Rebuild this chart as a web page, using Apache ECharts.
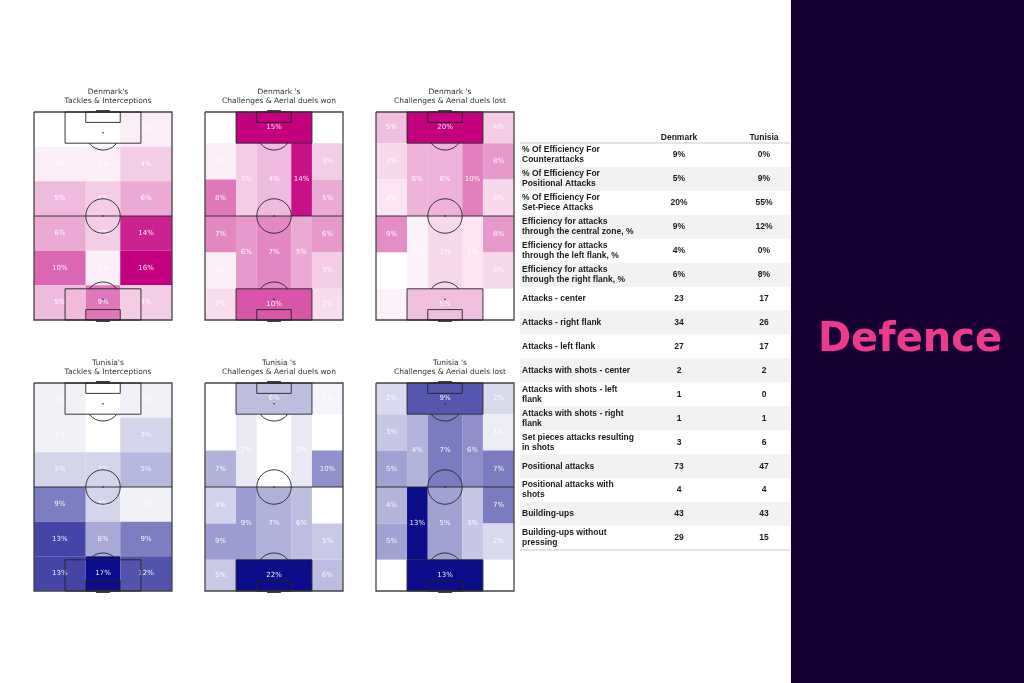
<!DOCTYPE html>
<html><head><meta charset="utf-8">
<script src="https://cdn.jsdelivr.net/npm/echarts@6/dist/echarts.min.js"></script>
<style>html,body{margin:0;padding:0;background:#fff}#c{width:1024px;height:683px}</style>
</head><body><div id="c"></div>
<script>
// ---------- DATA ----------
const pitchTitles = [
  "Denmark's\nTackles & Interceptions",
  "Denmark 's\nChallenges & Aerial duels won",
  "Denmark 's\nChallenges & Aerial duels lost",
  "Tunisia's\nTackles & Interceptions",
  "Tunisia 's\nChallenges & Aerial duels won",
  "Tunisia 's\nChallenges & Aerial duels lost"
];
// Tackles & interceptions: 6 rows (top->bottom) x 3 columns (left->right), %
const denTackles = [1,1,2, 2,2,4, 5,4,6, 6,4,14, 10,2,16, 5,9,4];
const tunTackles = [1,0,1, 1,0,3, 3,3,5, 9,3,1, 13,6,9, 13,17,12];
// Positional zones (order of posZones below), %
const denWon  = [0,15,0, 1,8,3,4,14,3,5, 7,1,6,7,5,6,3, 2,10,2];
const denLost = [5,20,4, 3,2,6,6,10,8,3, 9,0,1,3,2,8,3, 1,5,0];
const tunWon  = [0,6,1, 0,7,2,0,2,0,10, 4,9,9,7,6,0,5, 5,22,6];
const tunLost = [2,9,2, 3,5,4,7,6,1,7, 4,5,13,5,3,7,2, 0,13,0];

// Zone grids in pitch units (80 wide x 120 long)
const tiXEdges = [0,30,50,80];
const tiYEdges = [0,20,40,60,80,100,120];
const posZones = [
  [0,18,0,18],[18,62,0,18],[62,80,0,18],
  [0,18,18,39],[0,18,39,60],[18,30,18,60],[30,50,18,60],[50,62,18,60],[62,80,18,39],[62,80,39,60],
  [0,18,60,81],[0,18,81,102],[18,30,60,102],[30,50,60,102],[50,62,60,102],[62,80,60,81],[62,80,81,102],
  [0,18,102,120],[18,62,102,120],[62,80,102,120]
];

const tableHeader = ['Denmark','Tunisia'];
const tableLabels = [
  '% Of Efficiency For\nCounterattacks',
  '% Of Efficiency For\nPositional Attacks',
  '% Of Efficiency For\nSet-Piece Attacks',
  'Efficiency for attacks\nthrough the central zone, %',
  'Efficiency for attacks\nthrough the left flank, %',
  'Efficiency for attacks\nthrough the right flank, %',
  'Attacks - center',
  'Attacks - right flank',
  'Attacks - left flank',
  'Attacks with shots - center',
  'Attacks with shots - left\nflank',
  'Attacks with shots - right\nflank',
  'Set pieces attacks resulting\nin shots',
  'Positional attacks',
  'Positional attacks with\nshots',
  'Building-ups',
  'Building-ups without\npressing'
];
const denmarkStats = ['9%','5%','20%','9%','4%','6%','23','34','27','2','1','1','3','73','4','43','29'];
const tunisiaStats = ['0%','9%','55%','12%','0%','8%','17','26','17','2','0','1','6','47','4','43','15'];

const sectionTitle = 'Defence';

// ---------- BUILD ----------
function tiData(vals){
  const out = [];
  for (let r=0;r<6;r++) for (let c=0;c<3;c++)
    out.push([tiXEdges[c], tiXEdges[c+1], tiYEdges[r], tiYEdges[r+1], vals[r*3+c]]);
  return out;
}
function posData(vals){ return posZones.map((z,i)=>[z[0],z[1],z[2],z[3],vals[i]]); }

const pitches = [
  {data: tiData(denTackles), vals: denTackles, color:'#c4007e'},
  {data: posData(denWon), vals: denWon, color:'#c4007e'},
  {data: posData(denLost), vals: denLost, color:'#c4007e'},
  {data: tiData(tunTackles), vals: tunTackles, color:'#0a0c8a'},
  {data: posData(tunWon), vals: tunWon, color:'#0a0c8a'},
  {data: posData(tunLost), vals: tunLost, color:'#0a0c8a'}
];
const pitchPos = [[34,112],[205,112],[376,112],[34,383],[205,383],[376,383]];
const PW = 138, PH = 208;

function renderZone(params, api){
  const p0 = api.coord([api.value(0), api.value(2)]);
  const p1 = api.coord([api.value(1), api.value(3)]);
  const x = Math.min(p0[0],p1[0]), y = Math.min(p0[1],p1[1]);
  const w = Math.abs(p1[0]-p0[0]), h = Math.abs(p1[1]-p0[1]);
  return {type:'group', children:[
    {type:'rect', shape:{x:x,y:y,width:w,height:h}, style:{fill: api.visual('color')}},
    {type:'text', z2:10, style:{text: api.value(4)+'%', x:x+w/2, y:y+h/2, align:'center', verticalAlign:'middle',
      fill:'rgba(255,255,255,0.92)', font:'7px "DejaVu Sans"'}}
  ]};
}
function renderPitch(params, api){
  const c = (x,y)=>api.coord([x,y]);
  const st = {stroke:'#222', lineWidth:0.9, fill:null};
  const line = (pts, s)=>({type:'polyline', shape:{points:pts.map(p=>c(p[0],p[1]))}, style:Object.assign({}, st, s||{})});
  const rect = (x0,y0,x1,y1,s)=>line([[x0,y0],[x1,y0],[x1,y1],[x0,y1],[x0,y0]], s);
  const r = api.size([10,0])[0];
  const ctr = c(40,60), ps1 = c(40,12), ps2 = c(40,108);
  const a = Math.asin(0.6);
  return {type:'group', children:[
    rect(0,0,80,120,{stroke:'#444', lineWidth:1.3}),
    line([[0,60],[80,60]]),
    {type:'circle', shape:{cx:ctr[0], cy:ctr[1], r:r}, style:{stroke:'#222', lineWidth:0.9, fill:'none'}},
    {type:'circle', shape:{cx:ctr[0], cy:ctr[1], r:0.8}, style:{fill:'#222'}},
    rect(18,0,62,18), rect(18,102,62,120), rect(30,0,50,6), rect(30,114,50,120),
    {type:'circle', shape:{cx:ps1[0], cy:ps1[1], r:0.8}, style:{fill:'#222'}},
    {type:'circle', shape:{cx:ps2[0], cy:ps2[1], r:0.8}, style:{fill:'#222'}},
    {type:'arc', shape:{cx:ps1[0], cy:ps1[1], r:r, startAngle:a, endAngle:Math.PI-a, clockwise:true}, style:{stroke:'#222', lineWidth:0.9, fill:'none'}},
    {type:'arc', shape:{cx:ps2[0], cy:ps2[1], r:r, startAngle:Math.PI+a, endAngle:2*Math.PI-a, clockwise:true}, style:{stroke:'#222', lineWidth:0.9, fill:'none'}},
    line([[36,-0.4],[44,-0.4]],{stroke:'#333', lineWidth:2.5}),
    line([[36,120.4],[44,120.4]],{stroke:'#333', lineWidth:2.5})
  ]};
}

const grid=[], xAxis=[], yAxis=[], series=[], visualMap=[], title=[];
pitches.forEach((p,k)=>{
  const [L,T] = pitchPos[k];
  grid.push({left:L, top:T, width:PW, height:PH});
  xAxis.push({type:'value', gridIndex:k, min:0, max:80, show:false});
  yAxis.push({type:'value', gridIndex:k, min:0, max:120, inverse:true, show:false});
  series.push({type:'custom', xAxisIndex:k, yAxisIndex:k, renderItem:renderZone, data:p.data,
    encode:{x:[0,1], y:[2,3]}, z:1, silent:true});
  series.push({type:'custom', xAxisIndex:k, yAxisIndex:k, renderItem:renderPitch, data:[[40,60]], z:3, silent:true});
  visualMap.push({type:'continuous', show:false, seriesIndex:2*k, dimension:4,
    min:Math.min(...p.vals), max:Math.max(...p.vals),
    inRange:{color:['#ffffff', p.color]}});
  title.push({text:pitchTitles[k], left:L+PW/2, top:T-29, textAlign:'center',
    textStyle:{fontSize:7.5, fontWeight:'normal', color:'#333', fontFamily:'DejaVu Sans', lineHeight:9}});
});

// table
const TG = 6;
grid.push({left:520, top:143, width:270, height:407});
xAxis.push({type:'value', gridIndex:TG, min:0, max:270, show:false});
yAxis.push({type:'category', gridIndex:TG, data:tableLabels.map((_,i)=>String(i)), inverse:true, show:false});
const COL_LABEL = 2, COL_DEN = 159, COL_TUN = 244;
function renderRow(params, api){
  const i = params.dataIndex;
  const ctr = api.coord([0, api.value(1)]);
  const bh = api.size([0,1])[1];
  const top = ctr[1]-bh/2;
  const x0 = api.coord([0,0])[0], x1 = api.coord([270,0])[0];
  const font = 'bold 8.5px "Liberation Sans"';
  const ch = [];
  if (i%2===1) ch.push({type:'rect', shape:{x:x0, y:top, width:x1-x0, height:bh}, style:{fill:'#f2f2f2'}});
  ch.push({type:'text', style:{text:tableLabels[i], x:api.coord([COL_LABEL,0])[0], y:ctr[1], align:'left', verticalAlign:'middle', font:font, fill:'#1a1a1a', lineHeight:10}});
  ch.push({type:'text', style:{text:denmarkStats[i], x:api.coord([COL_DEN,0])[0], y:ctr[1], align:'center', verticalAlign:'middle', font:font, fill:'#1a1a1a'}});
  ch.push({type:'text', style:{text:tunisiaStats[i], x:api.coord([COL_TUN,0])[0], y:ctr[1], align:'center', verticalAlign:'middle', font:font, fill:'#1a1a1a'}});
  if (i===0){
    ch.push({type:'line', shape:{x1:x0, y1:top, x2:x1, y2:top}, style:{stroke:'#c8c8c8', lineWidth:1}});
    ch.push({type:'text', style:{text:tableHeader[0], x:api.coord([COL_DEN,0])[0], y:top-1, align:'center', verticalAlign:'bottom', font:font, fill:'#1a1a1a'}});
    ch.push({type:'text', style:{text:tableHeader[1], x:api.coord([COL_TUN,0])[0], y:top-1, align:'center', verticalAlign:'bottom', font:font, fill:'#1a1a1a'}});
  }
  if (i===tableLabels.length-1){
    ch.push({type:'line', shape:{x1:x0, y1:top+bh, x2:x1, y2:top+bh}, style:{stroke:'#c8c8c8', lineWidth:1}});
  }
  return {type:'group', children:ch};
}
series.push({type:'custom', xAxisIndex:TG, yAxisIndex:TG, renderItem:renderRow,
  data:tableLabels.map((_,i)=>[0,i]), silent:true});

const chart = echarts.init(document.getElementById('c'), null, {renderer:'canvas'});
chart.setOption({
  backgroundColor:'#ffffff',
  animation:false,
  title:title, grid:grid, xAxis:xAxis, yAxis:yAxis, visualMap:visualMap, series:series,
  graphic:[
    {type:'rect', shape:{x:791, y:0, width:233, height:683}, style:{fill:'#170033'}, z:0},
    {type:'text', style:{text:sectionTitle, x:910, y:341, align:'center', verticalAlign:'middle',
      font:'bold 40px "DejaVu Sans"', fill:'#ee3a8c'}, z:1}
  ]
});
</script></body></html>
